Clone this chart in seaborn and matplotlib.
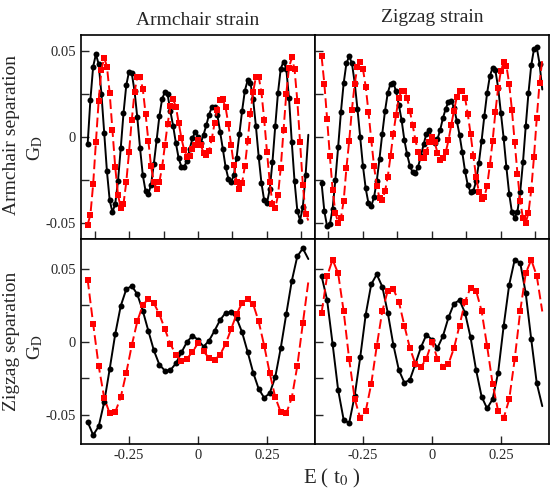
import numpy as np
import pandas as pd
import matplotlib
matplotlib.use("Agg")
import matplotlib.pyplot as plt
import seaborn as sns

# energy grids (units of t0)
energy_fine = np.linspace(-0.40, 0.40, 81)
energy_coarse = np.linspace(-0.40, 0.40, 41)

# armchair separation, armchair strain
ac_sep_ac_strain_black = [
    -0.0041, 0.0217, 0.0410, 0.0482, 0.0424, 0.0252, 0.0027, -0.0199, -0.0367, -0.0436,
    -0.0387, -0.0256, -0.0064, 0.0139, 0.0301, 0.0381, 0.0371, 0.0268, 0.0115, -0.0064,
    -0.0221, -0.0313, -0.0332, -0.0275, -0.0154, -0.0018, 0.0121, 0.0223, 0.0262, 0.0248,
    0.0150, 0.0065, -0.0035, -0.0123, -0.0172, -0.0172, -0.0137, -0.0068, -0.0006, 0.0031,
    0.0004, -0.0035, 0.0014, 0.0068, 0.0131, 0.0174, 0.0176, 0.0131, 0.0033, -0.0068,
    -0.0172, -0.0240, -0.0260, -0.0221, -0.0119, 0.0018, 0.0154, 0.0271, 0.0330, 0.0316,
    0.0219, 0.0063, -0.0113, -0.0266, -0.0367, -0.0383, -0.0303, -0.0143, 0.0063, 0.0258,
    0.0398, 0.0439, 0.0398, 0.0225, -0.0029, -0.0256, -0.0426, -0.0484, -0.0406, -0.0221,
    0.0014]
ac_sep_ac_strain_red = [
    -0.0508, -0.0451, -0.0273, -0.0029, 0.0212, 0.0392, 0.0461, 0.0410, 0.0254, 0.0039,
    -0.0174, -0.0334, -0.0410, -0.0387, -0.0262, -0.0088, 0.0100, 0.0262, 0.0350, 0.0350,
    0.0279, 0.0137, -0.0021, -0.0170, -0.0260, -0.0299, -0.0260, -0.0174, -0.0047, 0.0076,
    0.0180, 0.0219, 0.0176, 0.0084, -0.0006, -0.0076, -0.0115, -0.0107, -0.0070, -0.0045,
    -0.0015, -0.0045, -0.0090, -0.0105, -0.0080, -0.0010, 0.0080, 0.0160, 0.0215, 0.0219,
    0.0174, 0.0076, -0.0045, -0.0162, -0.0260, -0.0299, -0.0264, -0.0168, -0.0025, 0.0135,
    0.0264, 0.0350, 0.0352, 0.0260, 0.0102, -0.0084, -0.0260, -0.0387, -0.0412, -0.0338,
    -0.0178, 0.0039, 0.0252, 0.0404, 0.0463, 0.0395, 0.0213, -0.0029, -0.0275, -0.0445,
    -0.0484]

# armchair separation, zigzag strain
ac_sep_zz_strain_black = [
    -0.0267, -0.0430, -0.0518, -0.0507, -0.0415, -0.0247, -0.0058, 0.0144, 0.0313, 0.0429,
    0.0469, 0.0430, 0.0316, 0.0165, -0.0001, -0.0168, -0.0298, -0.0384, -0.0400, -0.0350,
    -0.0255, -0.0124, 0.0020, 0.0153, 0.0258, 0.0311, 0.0316, 0.0267, 0.0188, 0.0100,
    -0.0016, -0.0100, -0.0165, -0.0205, -0.0208, -0.0171, -0.0109, -0.0041, 0.0021, 0.0040,
    -0.0006, -0.0035, -0.0012, 0.0043, 0.0111, 0.0166, 0.0205, 0.0213, 0.0170, 0.0096,
    0.0014, -0.0088, -0.0197, -0.0279, -0.0318, -0.0314, -0.0256, -0.0152, -0.0021, 0.0123,
    0.0256, 0.0355, 0.0404, 0.0389, 0.0287, 0.0141, -0.0006, -0.0176, -0.0328, -0.0436,
    -0.0469, -0.0432, -0.0318, -0.0146, 0.0063, 0.0258, 0.0418, 0.0512, 0.0521, 0.0428,
    0.0277]
ac_sep_zz_strain_red = [
    0.0469, 0.0311, 0.0107, -0.0109, -0.0305, -0.0438, -0.0498, -0.0471, -0.0371, -0.0180,
    -0.0023, 0.0160, 0.0310, 0.0410, 0.0434, 0.0396, 0.0293, 0.0146, -0.0014, -0.0166,
    -0.0283, -0.0354, -0.0363, -0.0314, -0.0229, -0.0109, 0.0020, 0.0131, 0.0229, 0.0268,
    0.0268, 0.0229, 0.0154, 0.0072, -0.0016, -0.0084, -0.0119, -0.0120, -0.0085, -0.0030,
    0.0000, -0.0030, -0.0090, -0.0130, -0.0123, -0.0088, -0.0018, 0.0072, 0.0154, 0.0232,
    0.0271, 0.0271, 0.0229, 0.0135, 0.0020, -0.0107, -0.0230, -0.0318, -0.0357, -0.0348,
    -0.0283, -0.0162, -0.0021, 0.0146, 0.0287, 0.0385, 0.0434, 0.0414, 0.0311, 0.0158,
    -0.0029, -0.0211, -0.0371, -0.0471, -0.0498, -0.0438, -0.0305, -0.0113, 0.0111, 0.0313,
    0.0450]

# zigzag separation, armchair strain
zz_sep_ac_strain_black = [
    -0.0548, -0.0639, -0.0580, -0.0414, -0.0186, 0.0052, 0.0245, 0.0359, 0.0382, 0.0325,
    0.0211, 0.0075, -0.0059, -0.0157, -0.0198, -0.0195, -0.0148, -0.0073, -0.0002, 0.0041,
    0.0014, -0.0034, 0.0007, 0.0075, 0.0148, 0.0198, 0.0202, 0.0161, 0.0064, -0.0070,
    -0.0211, -0.0323, -0.0384, -0.0352, -0.0243, -0.0043, 0.0189, 0.0416, 0.0584, 0.0639,
    0.0566]
zz_sep_ac_strain_red = [
    0.0425, 0.0123, -0.0166, -0.0384, -0.0491, -0.0482, -0.0380, -0.0214, -0.0025, 0.0139,
    0.0252, 0.0293, 0.0264, 0.0189, 0.0086, -0.0016, -0.0089, -0.0130, -0.0116, -0.0070,
    -0.0010, -0.0066, -0.0111, -0.0125, -0.0089, -0.0016, 0.0086, 0.0189, 0.0266, 0.0291,
    0.0257, 0.0139, -0.0027, -0.0214, -0.0380, -0.0482, -0.0491, -0.0384, -0.0166, 0.0125,
    0.0411]

# zigzag separation, zigzag strain
zz_sep_zz_strain_black = [
    0.0450, 0.0286, -0.0016, -0.0330, -0.0534, -0.0557, -0.0370, -0.0107, 0.0186, 0.0393,
    0.0461, 0.0377, 0.0198, -0.0020, -0.0193, -0.0280, -0.0261, -0.0152, -0.0039, 0.0048,
    0.0014, -0.0043, 0.0039, 0.0166, 0.0261, 0.0284, 0.0198, 0.0030, -0.0193, -0.0375,
    -0.0457, -0.0393, -0.0211, 0.0107, 0.0389, 0.0561, 0.0541, 0.0332, 0.0016, -0.0284,
    -0.0441]
zz_sep_zz_strain_red = [
    0.0198, 0.0450, 0.0561, 0.0468, 0.0209, -0.0120, -0.0391, -0.0523, -0.0475, -0.0289,
    -0.0030, 0.0209, 0.0350, 0.0361, 0.0275, 0.0111, -0.0043, -0.0152, -0.0175, -0.0116,
    0.0000, -0.0116, -0.0175, -0.0152, -0.0043, 0.0111, 0.0275, 0.0370, 0.0350, 0.0211,
    -0.0030, -0.0289, -0.0475, -0.0523, -0.0395, -0.0120, 0.0209, 0.0468, 0.0561, 0.0450,
    0.0207]

col_titles = ["Armchair strain", "Zigzag strain"]
row_titles = ["Armchair separation", "Zigzag separation"]

sns.set_style("ticks")
plt.rcParams["font.family"] = ["Liberation Serif", "DejaVu Serif"]
plt.rcParams["mathtext.fontset"] = "stix"
plt.rcParams["axes.unicode_minus"] = False


def draw_panel(ax, x, black, red):
    df = pd.DataFrame({"E": x, "black": black, "red": red})
    marks = list(range(len(x) - 1))
    sns.lineplot(data=df, x="E", y="black", ax=ax, color="black", lw=1.4,
                 marker="o", markersize=4.3, markeredgecolor="black",
                 markeredgewidth=0, markevery=marks, errorbar=None, zorder=3)
    sns.lineplot(data=df, x="E", y="red", ax=ax, color="#ff0000", lw=1.4,
                 linestyle=(0, (5.0, 2.2)), marker="s", markersize=4.0,
                 markeredgecolor="#ff0000", markeredgewidth=0, markevery=marks,
                 errorbar=None, zorder=4)
    ax.set_xlabel("")
    ax.set_ylabel("")


fig, axes = plt.subplots(2, 2, figsize=(5.5, 4.92), dpi=100)
fig.subplots_adjust(left=0.1473, right=0.998, top=0.929, bottom=0.0976,
                    hspace=0, wspace=0)

draw_panel(axes[0, 0], energy_fine, ac_sep_ac_strain_black, ac_sep_ac_strain_red)
draw_panel(axes[0, 1], energy_fine, ac_sep_zz_strain_black, ac_sep_zz_strain_red)
draw_panel(axes[1, 0], energy_coarse, zz_sep_ac_strain_black, zz_sep_ac_strain_red)
draw_panel(axes[1, 1], energy_coarse, zz_sep_zz_strain_black, zz_sep_zz_strain_red)

for r in range(2):
    for c in range(2):
        ax = axes[r, c]
        ax.set_xlim(-0.424, 0.424)
        ax.set_ylim((-0.0594, 0.0594) if r == 0 else (-0.070, 0.070))
        for s in ax.spines.values():
            s.set_linewidth(1.2)
            s.set_color("black")
        ax.tick_params(which="both", direction="in", length=5.5, width=1.0,
                       top=False, right=False, labelsize=10.5, pad=3.5)
        ax.set_yticks([-0.05, 0, 0.05])
        ax.set_yticks([-0.025, 0.025], minor=True)
        if c == 0:
            ax.set_yticklabels(["-0.05", "0", "0.05"])
        else:
            ax.set_yticklabels([])
        if r == 0:
            ax.set_xticks([-0.375, -0.25, -0.125, 0, 0.125, 0.25, 0.375])
            ax.set_xticklabels([])
        else:
            ax.set_xticks([-0.25, 0, 0.25])
            ax.set_xticklabels(["-0.25", "0", "0.25"])

W, H = 550.0, 492.0
fig.text(198 / W, 1 - 25.3 / H, col_titles[0], ha="center", va="baseline", fontsize=14)
fig.text(432 / W, 1 - 21.8 / H, col_titles[1], ha="center", va="baseline", fontsize=14)
fig.text(12 / W, 1 - 135 / H, row_titles[0], rotation=90, ha="center", va="center", fontsize=14)
fig.text(35 / W, 1 - 148 / H, r"G$_\mathrm{D}$", rotation=90, ha="center", va="center", fontsize=14)
fig.text(12 / W, 1 - 341 / H, row_titles[1], rotation=90, ha="center", va="center", fontsize=14)
fig.text(35 / W, 1 - 347 / H, r"G$_\mathrm{D}$", rotation=90, ha="center", va="center", fontsize=14)
fig.text(332 / W, 1 - 478 / H, r"E ( t$_0$ )", ha="center", va="center", fontsize=15)

fig.savefig("out.png", dpi=100)
